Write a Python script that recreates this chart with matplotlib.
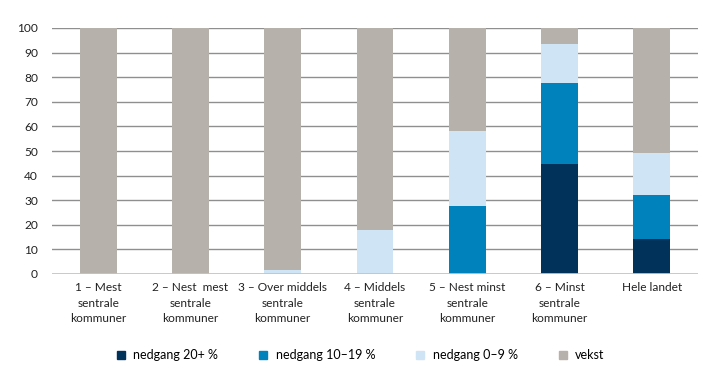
import numpy as np
from matplotlib import pyplot as plt
from matplotlib.lines import Line2D

plt.rcParams['font.family'] = ['Lato', 'DejaVu Sans']

categories = [
    "1 – Mest\nsentrale\nkommuner",
    "2 – Nest  mest\nsentrale\nkommuner",
    "3 – Over middels\nsentrale\nkommuner",
    "4 – Middels\nsentrale\nkommuner",
    "5 – Nest minst\nsentrale\nkommuner",
    "6 – Minst\nsentrale\nkommuner",
    "Hele landet",
]
series_names = ["nedgang 20+ %", "nedgang 10–19 %", "nedgang 0–9 %", "vekst"]
nedgang_20 = [0, 0, 0, 0, 0, 44.8, 14.2]
nedgang_10_19 = [0, 0, 0, 0, 27.8, 32.8, 17.9]
nedgang_0_9 = [0, 0, 1.7, 18.0, 30.2, 16.0, 17.1]
vekst = [100, 100, 98.3, 82.0, 42.0, 6.4, 50.8]

COLORS = ['#00325a', '#0082bd', '#cfe5f5', '#b6b1ab']

fig = plt.figure(figsize=(7.19, 3.83), dpi=100)
ax = fig.add_axes([52 / 719, 1 - 274 / 383, 646 / 719, 246 / 383])

x = np.arange(len(categories))
bottom = np.zeros(len(categories))
handles = []
for vals, name, col in zip([nedgang_20, nedgang_10_19, nedgang_0_9, vekst], series_names, COLORS):
    ax.bar(x, vals, width=0.4, bottom=bottom, color=col, zorder=3)
    bottom += np.array(vals)
    handles.append(Line2D([], [], marker='s', linestyle='none', markersize=6,
                          markerfacecolor=col, markeredgecolor=col, label=name))

ax.set_xlim(-0.5, len(categories) - 0.5)
ax.set_ylim(0, 100)
ax.set_yticks(range(0, 101, 10))
ax.set_xticks(x)
ax.set_xticklabels(categories, fontsize=8.6, color='#222222', linespacing=1.5)
ax.tick_params(axis='both', length=0, labelsize=8.6, colors='#222222')
ax.tick_params(axis='y', pad=10)
ax.tick_params(axis='x', pad=6)

for v in range(10, 101, 10):
    ax.axhline(v, color='#8f8f8f', linewidth=1, zorder=1)
ax.axhline(0, color='#c4c4c4', linewidth=2, zorder=4)

for s in ax.spines.values():
    s.set_visible(False)

fig.legend(handles=handles, loc='center', bbox_to_anchor=(0.5, 1 - 355 / 383),
           ncol=4, frameon=False, fontsize=9, columnspacing=3.1,
           handletextpad=0.5, handlelength=1.0)

plt.savefig('out.png', dpi=100)
